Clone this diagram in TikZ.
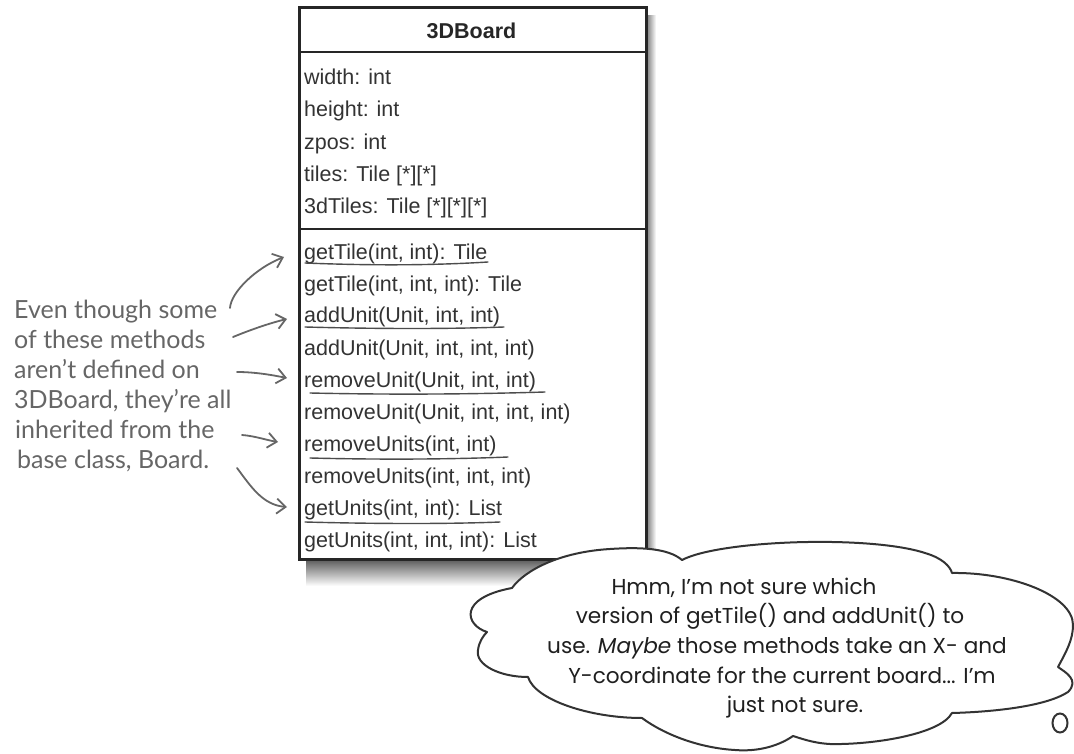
\documentclass[tikz,border=0pt]{standalone}
\usepackage{fontspec}
\setmainfont{Liberation Sans}
\newfontfamily\cloudfont{Poppins}
\newfontfamily\handfont{Lato}
\usetikzlibrary{arrows.meta}
\begin{document}
\begin{tikzpicture}[x=1pt,y=-1pt,
  boxline/.style={draw=black!85, line width=2.6pt},
  row/.style={anchor=base west, inner sep=0pt, text=black!80, font=\fontsize{21.5}{24}\selectfont},
  hdr/.style={anchor=base, inner sep=0pt, text=black!85, font=\bfseries\fontsize{21.5}{24}\selectfont},
  note/.style={anchor=base west, inner sep=0pt, text=black!60, font=\handfont\fontsize{25}{28}\selectfont},
  ctext/.style={anchor=base, inner sep=0pt, text=black!88, font=\cloudfont\fontsize{21.6}{24}\selectfont},
  pointer/.style={draw=black!60, line width=1.8pt, line cap=round, -{Straight Barb[length=9pt,width=15pt]}},
  uline/.style={draw=black!70, line width=1.4pt, line cap=round},
  cloudline/.style={draw=black!80, line width=2pt, line join=round, fill=white}
]
\useasboundingbox (0,0) rectangle (1074,754);
% shadow of the class box
\shade[left color=black!60, right color=white] (645,16) rectangle (656,566);
\shade[top color=black!70, bottom color=white] (306,557) rectangle (656,586);
% class box
\node[boxline, fill=white, minimum width=347pt, minimum height=552pt, anchor=north west, inner sep=0pt] (board) at (298,6) {};
\draw[boxline] (298,52) -- (645,52);
\draw[boxline] (298,229) -- (645,229);
\node[hdr] (title) at (471.5,39) {3DBoard};
% attributes
\node[row] (a1) at (304,85) {width: int};
\node[row] (a2) at (304,117) {height: int};
\node[row] (a3) at (304,149.5) {zpos: int};
\node[row] (a4) at (304,182) {tiles: Tile [*][*]};
\node[row] (a5) at (304,214) {3dTiles: Tile [*][*][*]};
% methods
\node[row] (m1) at (304,259) {getTile(int, int): Tile};
\node[row] (m2) at (304,291) {getTile(int, int, int): Tile};
\node[row] (m3) at (304,323) {addUnit(Unit, int, int)};
\node[row] (m4) at (304,355) {addUnit(Unit, int, int, int)};
\node[row] (m5) at (304,387) {removeUnit(Unit, int, int)};
\node[row] (m6) at (304,419) {removeUnit(Unit, int, int, int)};
\node[row] (m7) at (304,451) {removeUnits(int, int)};
\node[row] (m8) at (304,483) {removeUnits(int, int, int)};
\node[row] (m9) at (304,515) {getUnits(int, int): List};
\node[row] (m10) at (304,547) {getUnits(int, int, int): List};
% hand-drawn underlines
\draw[uline] (305,263) .. controls (380,266) and (440,265) .. (488,262);
\draw[uline] (305,327) .. controls (380,329) and (450,329) .. (504,327);
\draw[uline] (310,393) .. controls (400,395) and (480,394) .. (545,392);
\draw[uline] (310,458) .. controls (390,460) and (460,459) .. (508,457);
\draw[uline] (305,522) .. controls (380,524) and (450,524) .. (500,522);
% note
\node[note] (n1) at (14,318) {Even though some};
\node[note] (n2) at (14,348) {of these methods};
\node[note] (n3) at (14,378) {aren’t defined on};
\node[note] (n4) at (14,408) {3DBoard, they’re all};
\node[note] (n5) at (15,438) {inherited from the};
\node[note] (n6) at (17,468) {base class, Board.};
% pointers
\coordinate (p1s) at (230,308); \coordinate (p1e) at (284,257);
\coordinate (p2s) at (233,337); \coordinate (p2e) at (287,319);
\coordinate (p3s) at (237,372); \coordinate (p3e) at (287,378);
\coordinate (p4s) at (242,435); \coordinate (p4e) at (278,442);
\coordinate (p5s) at (237,468); \coordinate (p5e) at (287,507);
\draw[pointer] (p1s) .. controls (231,292) and (256,268) .. (p1e);
\draw[pointer] (p2s) .. controls (250,330) and (270,323) .. (p2e);
\draw[pointer] (p3s) .. controls (255,372) and (272,375) .. (p3e);
\draw[pointer] (p4s) .. controls (255,436) and (266,440) .. (p4e);
\draw[pointer] (p5s) .. controls (250,485) and (262,505) .. (p5e);
% thought cloud
\draw[cloudline] (487,632)
  .. controls (465,625) and (458,598) .. (512,588)
  .. controls (525,570) and (560,552) .. (610,549)
  .. controls (640,547) and (668,548) .. (682,560)
  .. controls (720,540) and (870,535) .. (925,553)
  .. controls (942,558) and (950,566) .. (952,573)
  .. controls (1010,572) and (1073,595) .. (1073,625)
  .. controls (1073,640) and (1066,652) .. (1058,667)
  .. controls (1065,672) and (1080,680) .. (1068,692)
  .. controls (1045,707) and (990,712) .. (952,713)
  .. controls (940,735) and (870,745) .. (830,744)
  .. controls (812,743) and (800,738) .. (793,736)
  .. controls (780,745) and (760,752) .. (735,750)
  .. controls (700,748) and (665,735) .. (642,718)
  .. controls (590,718) and (535,700) .. (528,677)
  .. controls (500,677) and (475,665) .. (478,650)
  .. controls (479,642) and (483,636) .. (487,632) -- cycle;
\draw[draw=black!80, line width=2pt] (1060,723) ellipse [x radius=7.5, y radius=9.5];
\node[ctext] (c1) at (744,594) {Hmm, I’m not sure which};
\node[ctext] (c2) at (770,623) {version of getTile() and addUnit() to};
\node[ctext] (c3) at (777,653) {use. \textit{Maybe} those methods take an X- and};
\node[ctext] (c4) at (782,683) {Y-coordinate for the current board... I’m};
\node[ctext] (c5) at (795,712) {just not sure.};
\end{tikzpicture}
\end{document}
